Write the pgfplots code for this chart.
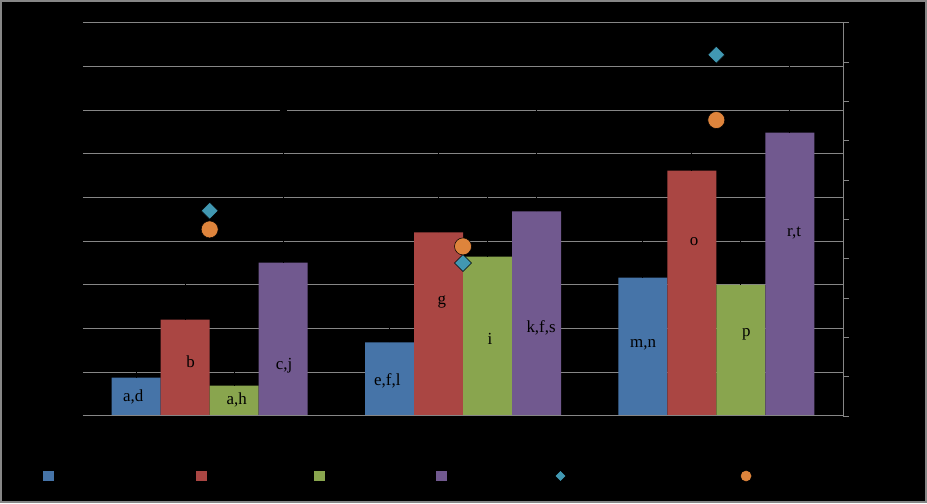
\documentclass[border=0pt]{standalone}
\usepackage{pgfplots}
\pgfplotsset{compat=1.18}
\usepackage{fontspec}
\setmainfont{Liberation Serif}
\definecolor{cblue}{RGB}{70,116,168}
\definecolor{cred}{RGB}{170,70,67}
\definecolor{cgreen}{RGB}{137,165,78}
\definecolor{cpurple}{RGB}{113,89,143}
\definecolor{cteal}{RGB}{65,152,178}
\definecolor{corange}{RGB}{222,132,60}
\definecolor{cgrid}{RGB}{134,134,134}
\begin{document}
\begin{tikzpicture}
\path[use as bounding box] (-62.25pt,-65.25pt) rectangle (633pt,312pt);
\draw[cgrid, line width=1.5pt, fill=black] (-61.5pt,-64.5pt) rectangle (632.25pt,311.25pt);
\begin{axis}[
  at={(0,0)}, anchor=south west, scale only axis,
  width=570pt, height=294.75pt,
  xmin=-0.5, xmax=2.5, ymin=0, ymax=9,
  ytick={0,...,9}, xtick=\empty,
  yticklabels={}, 
  axis line style={draw=none}, tick style={draw=none},
  ymajorgrids, grid style={cgrid, line width=0.75pt},
  clip=false,
  legend columns=6,
  legend style={at={(-0.05307,-0.15267)}, anchor=west, draw=none, fill=none,
    inner sep=0pt, column sep=0pt, row sep=0pt,
    nodes={inner sep=0pt, outer sep=0pt},
    /tikz/every even column/.append style={column sep=0pt}},
]
\addplot[ybar, bar width=36.75pt, bar shift=-55.125pt, fill=cblue, draw=none,
  legend image code/.code={\path (0,-4pt) rectangle (8pt,4pt); \fill[cblue] (1pt,-3pt) rectangle (7pt,3pt);}]
  coordinates {(0,0.877) (1,1.685) (2,3.167)};
\addlegendentry{\rule{106.75pt}{0pt}}
\addplot[ybar, bar width=36.75pt, bar shift=-18.375pt, fill=cred, draw=none,
  legend image code/.code={\path (0,-4pt) rectangle (8pt,4pt); \fill[cred] (1pt,-3pt) rectangle (7pt,3pt);}]
  coordinates {(0,2.207) (1,4.205) (2,5.617)};
\addlegendentry{\rule{80.5pt}{0pt}}
\addplot[ybar, bar width=36.75pt, bar shift=18.375pt, fill=cgreen, draw=none,
  legend image code/.code={\path (0,-4pt) rectangle (8pt,4pt); \fill[cgreen] (1pt,-3pt) rectangle (7pt,3pt);}]
  coordinates {(0,0.694) (1,3.648) (2,3.0)};
\addlegendentry{\rule{83.5pt}{0pt}}
\addplot[ybar, bar width=36.75pt, bar shift=55.125pt, fill=cpurple, draw=none,
  legend image code/.code={\path (0,-4pt) rectangle (8pt,4pt); \fill[cpurple] (1pt,-3pt) rectangle (7pt,3pt);}]
  coordinates {(0,3.51) (1,4.686) (2,6.487)};
\addlegendentry{\rule{81.25pt}{0pt}}
% error bars (black), at the bar centres
\addplot[forget plot, draw=none, mark=none,
  error bars/.cd, y dir=plus, y explicit,
  error bar style={draw=black, line width=0.75pt},
  error mark options={rotate=90, draw=black, mark size=2.6pt, line width=0.75pt}]
  coordinates {
  (-0.2902,0.877) +- (0,0.64) (0.7098,1.685) +- (0,0.82) (1.7098,3.167) +- (0,1.33)
  (-0.0967,2.207) +- (0,1.30) (0.9033,4.205) +- (0,2.28) (1.9033,5.617) +- (0,0.87)
  (0.0967,0.694) +- (0,0.83) (1.0967,3.648) +- (0,1.85) (2.0967,3.0) +- (0,1.50)
  (0.2902,3.51) +- (0,3.48) (1.2902,4.686) +- (0,2.81) (2.2902,6.487) +- (0,2.01)};
\addplot[only marks, mark=square*, mark size=4.5pt, mark options={rotate=45, fill=cteal, draw=none},
  legend image code/.code={\path (0,-4pt) rectangle (8pt,4pt); \fill[cteal] (4pt,-3.4pt) -- (7.4pt,0pt) -- (4pt,3.4pt) -- (0.6pt,0pt) -- cycle;}]
  coordinates {(0,4.70) (1,3.503) (2,8.273)};
\addlegendentry{\rule{130.75pt}{0pt}}
\addplot[only marks, mark=*, mark size=6.375pt, mark options={fill=corange, draw=none},
  legend image code/.code={\path (0,-4pt) rectangle (8pt,4pt); \fill[corange] (4pt,0pt) circle (3.75pt);}]
  coordinates {(0,4.273) (1,3.884) (2,6.778)};
\addlegendentry{\rule{60pt}{0pt}}
\addplot[cgrid, line width=0.75pt, forget plot] coordinates {(-0.5,0) (2.5,0)};
\begin{scope}[font=\fontsize{12.7}{14}\selectfont, text=black]
\node at (axis cs:-0.3014,0.426) {a,d};
\node at (axis cs:-0.0748,1.25) {b};
\node at (axis cs:0.1068,0.357) {a,h};
\node at (axis cs:0.2935,1.152) {c,j};
\node at (axis cs:0.7014,0.815) {e,f,l};
\node at (axis cs:0.9161,2.61) {g};
\node at (axis cs:1.1068,1.77) {i};
\node at (axis cs:1.3082,2.015) {k,f,s};
\node at (axis cs:1.7108,1.633) {m,n};
\node at (axis cs:1.9123,3.985) {o};
\node at (axis cs:2.1187,1.862) {p};
\node at (axis cs:2.3069,4.19) {r,t};
\end{scope}
\end{axis}
\begin{axis}[
  at={(0,0)}, anchor=south west, scale only axis,
  width=570pt, height=294.75pt,
  xmin=-0.5, xmax=2.5, ymin=0, ymax=10,
  ytick={0,...,10}, yticklabels={},
  axis x line=none, axis y line*=right,
  y axis line style={cgrid, line width=0.75pt, -},
  ytick style={cgrid, line width=0.75pt},
  tick align=outside, major tick length=4.5pt,
]
\end{axis}
\end{tikzpicture}
\end{document}
